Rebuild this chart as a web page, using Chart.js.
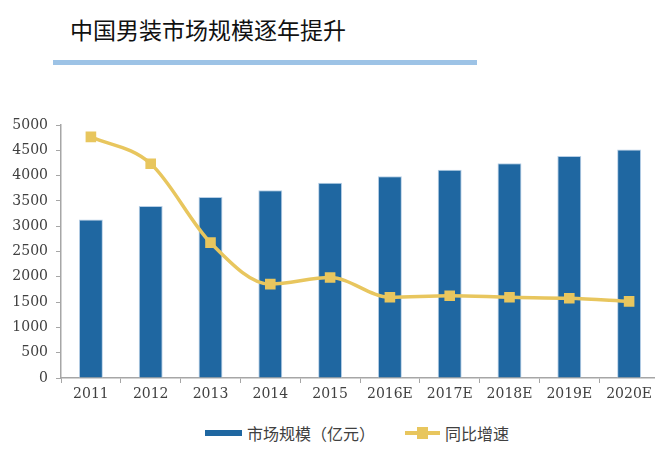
<!DOCTYPE html>
<html>
<head>
<meta charset="utf-8">
<script src="https://cdn.jsdelivr.net/npm/chart.js@4/dist/chart.umd.min.js"></script>
<style>
  html, body { margin: 0; padding: 0; background: #fff; overflow: hidden; }
  body { width: 655px; height: 454px; position: relative; font-family: "Noto Sans CJK SC", sans-serif; }
  #title { position: absolute; left: 70px; top: 12px; font-size: 23px; color: #111; white-space: nowrap; }
  #rule { position: absolute; left: 53px; top: 60px; width: 424px; height: 5px; background: #9DC3E6; }
  #wrap { position: absolute; left: 0; top: 80px; width: 668px; height: 330px; }
  #legend { position: absolute; top: 421px; left: 205px; font-size: 16px; color: #404040; display: flex; align-items: center; white-space: nowrap; }
  .sw-bar { width: 37px; height: 6px; background: #1F67A1; margin-right: 5px; }
  .sw-line { width: 35px; height: 4px; background: #E8C65E; position: relative; margin: 0 5px 0 30px; }
  .sw-line::after { content: ""; position: absolute; left: 12px; top: -4px; width: 11px; height: 12px; background: #E8C65E; }
</style>
</head>
<body>
<div id="title">中国男装市场规模逐年提升</div>
<div id="rule"></div>
<div id="wrap"><canvas id="chart"></canvas></div>
<div id="legend">
  <span class="sw-bar"></span><span>市场规模（亿元）</span>
  <span class="sw-line"></span><span>同比增速</span>
</div>
<script>
/* Data */
const years = ['2011', '2012', '2013', '2014', '2015', '2016E', '2017E', '2018E', '2019E', '2020E'];
const marketSize = [3130, 3400, 3575, 3710, 3860, 3985, 4115, 4245, 4385, 4515];
/* growth (%) sits on a hidden axis, 0-10 */
const growthRate = [9.53, 8.47, 5.35, 3.71, 3.97, 3.19, 3.25, 3.19, 3.15, 3.03];
const yTicks = [0, 500, 1000, 1500, 2000, 2500, 3000, 3500, 4000, 4500, 5000];

const axisColor = '#A6A6A6';
const tickFont = { family: 'DejaVu Serif', size: 14 };

/* Set up the bar + line chart */
function createChart(chartId) {
    const chartElement = document.getElementById(chartId);

    return new Chart(chartElement, {
        data: {
            labels: years,
            datasets: [
                {
                    type: 'line',
                    label: '同比增速',
                    data: growthRate,
                    yAxisID: 'y1',
                    borderColor: '#E8C65E',
                    backgroundColor: '#E8C65E',
                    borderWidth: 3.5,
                    tension: 0.4,
                    cubicInterpolationMode: 'monotone',
                    pointStyle: 'rect',
                    pointRadius: 7.5,
                    pointBorderWidth: 0,
                    order: 0,
                },
                {
                    type: 'bar',
                    label: '市场规模（亿元）',
                    data: marketSize,
                    yAxisID: 'y',
                    backgroundColor: '#1F67A1',
                    borderColor: '#B7CFE6',
                    borderWidth: { top: 1, left: 1, right: 1, bottom: 0 },
                    barPercentage: 0.4,
                    categoryPercentage: 1,
                    order: 1,
                },
            ],
        },
        options: {
            responsive: true,
            maintainAspectRatio: false,
            animation: false,
            layout: { padding: { top: 45, right: 9, left: 0, bottom: 0 } },
            plugins: {
                legend: { display: false },
                tooltip: { enabled: false },
            },
            scales: {
                x: {
                    offset: true,
                    grid: {
                        offset: true,
                        drawOnChartArea: false,
                        color: axisColor,
                        tickLength: 5,
                    },
                    border: { color: axisColor, width: 1.5 },
                    ticks: { color: '#404040', font: tickFont, padding: 3, maxRotation: 0 },
                    afterFit: function(scale) { scale.height = 32; },
                },
                y: {
                    min: 0,
                    max: 5000,
                    afterBuildTicks: function(scale) {
                        scale.ticks = yTicks.map(v => ({ value: v }));
                    },
                    grid: {
                        drawOnChartArea: false,
                        color: axisColor,
                        tickLength: 5,
                    },
                    border: { color: axisColor, width: 1.5 },
                    ticks: {
                        color: '#404040',
                        font: tickFont,
                        padding: 8,
                        callback: function(value) { return String(value); },
                    },
                    afterFit: function(scale) { scale.width = 61; },
                },
                y1: {
                    display: false,
                    min: 0,
                    max: 10,
                },
            },
        },
    });
}

createChart('chart');
</script>
</body>
</html>
